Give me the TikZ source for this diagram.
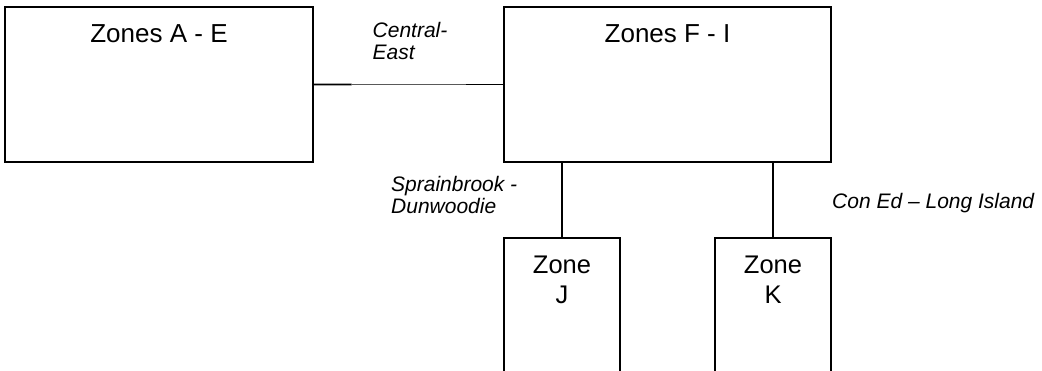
\documentclass[tikz,border=0pt]{standalone}
\usepackage{fontspec}
\setmainfont{Liberation Sans}
\usetikzlibrary{calc}
\begin{document}
\begin{tikzpicture}[x=1pt,y=-1pt,
  zonebox/.style={draw=black,line width=1.6pt,rectangle,inner sep=0pt},
  openbox/.style={rectangle,inner sep=0pt},
  wire/.style={draw=black,line width=1.6pt},
  thinwire/.style={draw=black!65,line width=0.9pt},
  bigtext/.style={font=\fontsize{26}{30}\selectfont,inner sep=0pt},
  midtext/.style={font=\fontsize{25.5}{30}\selectfont,inner sep=0pt,align=center},
  lbl/.style={font=\fontsize{21}{22.3}\selectfont\itshape,inner sep=0pt,align=left}]
\useasboundingbox (0,0) rectangle (1042,371);
% main boxes
\node[zonebox,minimum width=308pt,minimum height=155pt] (ae) at (159,84.5) {};
\node[zonebox,minimum width=327pt,minimum height=155pt] (fi) at (667.5,84.5) {};
\node[bigtext,anchor=base] (aet) at (159,43) {Zones A - E};
\node[bigtext,anchor=base] (fit) at (667.5,43) {Zones F - I};
% open-bottom boxes (bottom edge lies below the page)
\node[openbox,minimum width=116pt,minimum height=150pt,anchor=north] (zj) at (562,238) {};
\node[openbox,minimum width=116pt,minimum height=150pt,anchor=north] (zk) at (773,238) {};
\draw[wire] (zj.south west) -- (zj.north west) -- (zj.north east) -- (zj.south east);
\draw[wire] (zk.south west) -- (zk.north west) -- (zk.north east) -- (zk.south east);
\node[midtext,anchor=base] (zjt) at (562,274) {Zone};
\node[midtext,anchor=base] (zjt2) at (562,304) {J};
\node[midtext,anchor=base] (zkt) at (773,274) {Zone};
\node[midtext,anchor=base] (zkt2) at (773,304) {K};
% connectors
\coordinate (ce1) at ($(ae.east)!0.2!(fi.west)$);
\coordinate (ce2) at ($(ae.east)!0.806!(fi.west)$);
\draw[wire] (ae.east) -- (ce1);
\draw[thinwire] (ce1) -- (ce2);
\draw[wire] (ce2) -- (fi.west);
\draw[wire] (fi.south -| zj.north) -- (zj.north);
\draw[wire] (fi.south -| zk.north) -- (zk.north);
% labels (base anchor = baseline of the last line)
\node[lbl,anchor=base west] (lce) at (372.5,60) {Central-\\East};
\node[lbl,anchor=base west] (lsd) at (391,214) {Sprainbrook -\\Dunwoodie};
\node[lbl,anchor=base west] (lcl) at (832,209) {Con Ed – Long Island};
\end{tikzpicture}
\end{document}
